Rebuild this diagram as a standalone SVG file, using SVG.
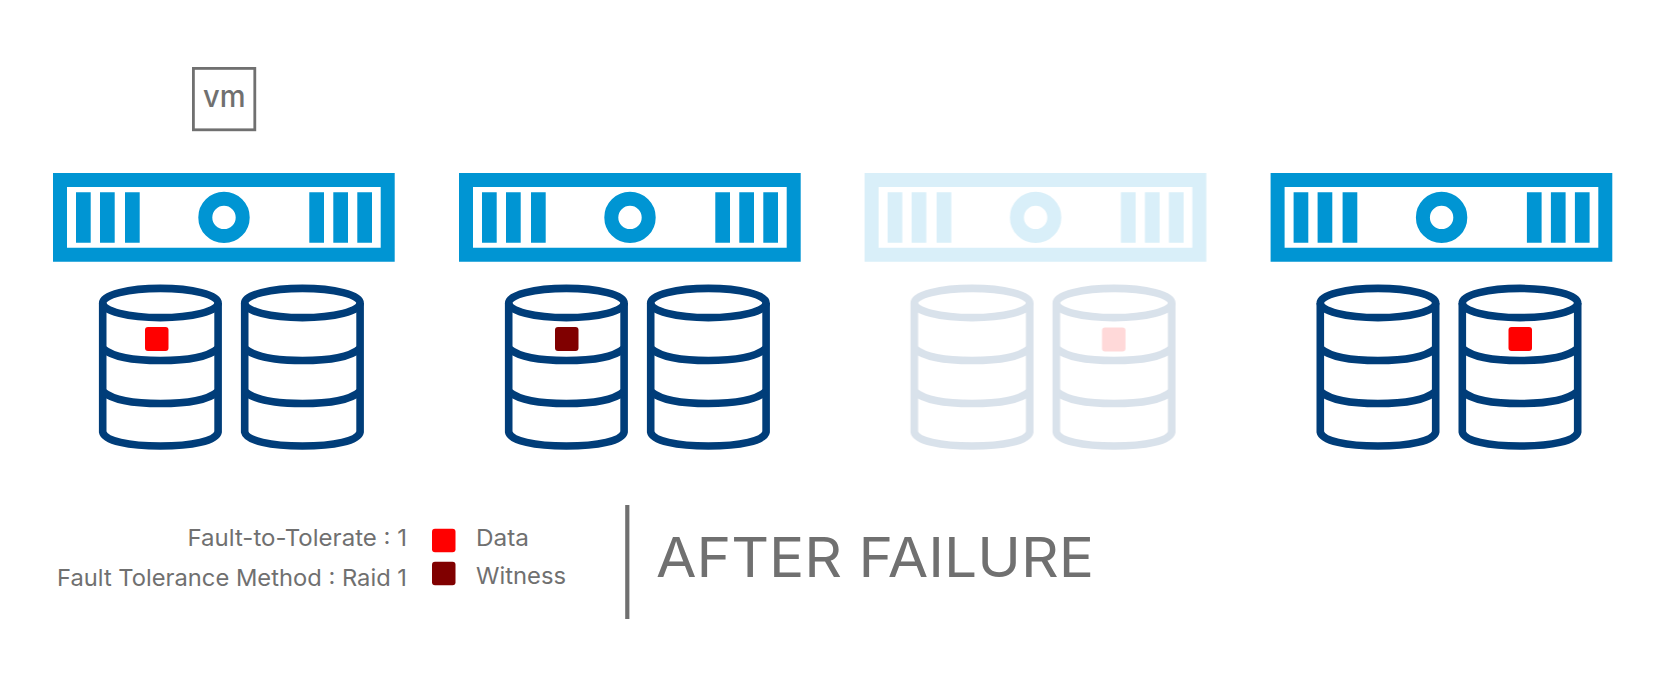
<svg xmlns="http://www.w3.org/2000/svg" width="1680" height="680" viewBox="0 0 1680 680">
<style>
.t{font-family:"Inter","Liberation Sans",sans-serif;fill:#707070;}
.leg{font-size:23px;font-weight:400;}
.srv{fill:#0095d3;fill-rule:evenodd;}
.cyl{fill:none;stroke:#003d79;stroke-width:7.6;stroke-linejoin:round;}
.faded{opacity:.15;}
</style>
<defs>
<g id="server">
<path class="srv" d="M53 173H394.7V261.7H53ZM67 187V247.7H380.7V187Z"/>
<path class="srv" d="M76 192.3h14.7v50.4H76ZM100 192.3h14.7v50.4H100ZM125 192.3h14.7v50.4H125ZM309.3 192.3h14.7v50.4h-14.7ZM333.3 192.3h14.7v50.4h-14.7ZM357.3 192.3h14.7v50.4h-14.7Z"/>
<circle cx="224" cy="217.4" r="18.7" fill="none" stroke="#0095d3" stroke-width="14"/>
</g>
<g id="disk">
<ellipse class="cyl" cx="0" cy="303" rx="57.7" ry="14.6"/>
<path class="cyl" d="M-57.7 303V432C-56 441 -31 446 0 446C31 446 56 441 57.7 432V303"/>
<path class="cyl" d="M-57 349C-48 356.5 -28 360.5 0 360.5C28 360.5 48 356.5 57 349"/>
<path class="cyl" d="M-57 392C-48 399.5 -28 403.5 0 403.5C28 403.5 48 399.5 57 392"/>
</g>
</defs>
<g id="vm">
<rect x="193.4" y="68.4" width="61.4" height="61.4" fill="none" stroke="#707070" stroke-width="2.8"/>
<text class="t" x="203" y="106.7" font-size="30" font-weight="500" textLength="42.5" lengthAdjust="spacingAndGlyphs">vm</text>
</g>
<g id="host-1">
<use href="#server"/>
<use href="#disk" x="160.4"/>
<use href="#disk" x="302.4"/>
<rect x="145" y="327" width="23.5" height="24" rx="3" fill="#ff0000"/>
</g>
<g id="host-2" transform="translate(406 0)">
<use href="#server"/>
<use href="#disk" x="160.4"/>
<use href="#disk" x="302.4"/>
<rect x="149" y="327" width="23.5" height="24" rx="3" fill="#800000"/>
</g>
<g id="host-3" class="faded" transform="translate(811.6 0)">
<use href="#server"/>
<use href="#disk" x="160.4"/>
<use href="#disk" x="302.4"/>
<rect x="290.4" y="327.5" width="23.5" height="24" rx="3" fill="#ff0000"/>
</g>
<g id="host-4" transform="translate(1217.6 0)">
<use href="#server"/>
<use href="#disk" x="160.4"/>
<use href="#disk" x="302.4"/>
<rect x="290.9" y="327" width="23.5" height="24" rx="3" fill="#ff0000"/>
</g>
<g id="legend">
<text class="t leg" x="187.5" y="546" textLength="219.5" lengthAdjust="spacingAndGlyphs">Fault-to-Tolerate : 1</text>
<text class="t leg" x="57" y="586" textLength="350" lengthAdjust="spacingAndGlyphs">Fault Tolerance Method : Raid 1</text>
<rect x="432" y="528.7" width="23.5" height="23.5" rx="3" fill="#ff0000"/>
<rect x="432" y="561.7" width="23.5" height="23.5" rx="3" fill="#800000"/>
<text class="t leg" x="476" y="546" textLength="53" lengthAdjust="spacingAndGlyphs">Data</text>
<text class="t leg" x="476" y="584" textLength="90" lengthAdjust="spacingAndGlyphs">Witness</text>
</g>
<g id="title">
<rect x="625.2" y="505" width="4.2" height="114" fill="#707070"/>
<text class="t" x="656" y="577" font-size="55" font-weight="400" textLength="438" lengthAdjust="spacingAndGlyphs">AFTER FAILURE</text>
</g>
</svg>
